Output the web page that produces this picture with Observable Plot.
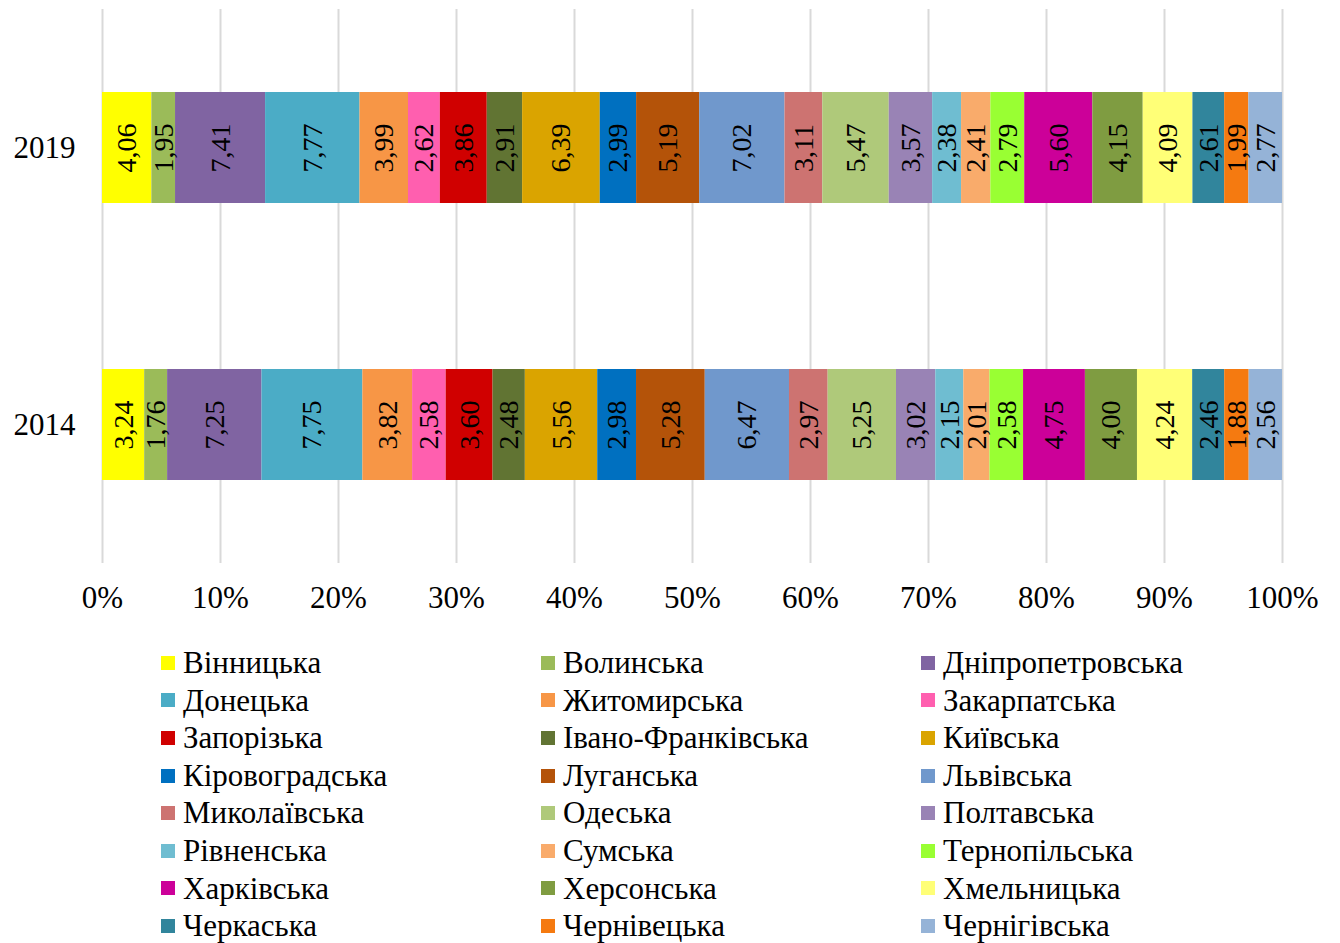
<!DOCTYPE html>
<html>
<head>
<meta charset="utf-8">
<script src="https://cdn.jsdelivr.net/npm/d3@7"></script>
<script src="https://cdn.jsdelivr.net/npm/@observablehq/plot@0.6"></script>
<style>
  html, body { margin: 0; padding: 0; background: #fff; }
  body { width: 1340px; height: 943px; overflow: hidden; font-family: "Liberation Serif", serif; }
  #legend {
    display: grid;
    grid-template-columns: 380px 380px 380px;
    padding-left: 161px;
    margin-top: 14px;
    font-size: 31px;
    line-height: 37.6px;
    color: #000;
  }
  .item { display: flex; align-items: center; white-space: nowrap; }
  .sw { width: 14px; height: 14px; margin-right: 8px; flex: none; }
</style>
</head>
<body>
<div id="chart"></div>
<div id="legend"></div>
<script>
const years = ["2019", "2014"];
const regions = ["Вінницька","Волинська","Дніпропетровська","Донецька","Житомирська","Закарпатська","Запорізька","Івано-Франківська","Київська","Кіровоградська","Луганська","Львівська","Миколаївська","Одеська","Полтавська","Рівненська","Сумська","Тернопільська","Харківська","Херсонська","Хмельницька","Черкаська","Чернівецька","Чернігівська"];
const colors = ["#FFFF00","#9BBB59","#8064A2","#4BACC6","#F79646","#FF5FAF","#D00000","#617433","#DAA400","#0070C0","#B45309","#7098CC","#CD7371","#AFC97A","#9983B5","#6FBDD1","#F9AB6B","#99FF33","#CC0099","#7F9C41","#FFFF77","#31859C","#F57A10","#95B3D7"];
const values2019 = [4.06,1.95,7.41,7.77,3.99,2.62,3.86,2.91,6.39,2.99,5.19,7.02,3.11,5.47,3.57,2.38,2.41,2.79,5.60,4.15,4.09,2.61,1.99,2.77];
const values2014 = [3.24,1.76,7.25,7.75,3.82,2.58,3.60,2.48,5.56,2.98,5.28,6.47,2.97,5.25,3.02,2.15,2.01,2.58,4.75,4.00,4.24,2.46,1.88,2.56];
const xTicks = [0,0.1,0.2,0.3,0.4,0.5,0.6,0.7,0.8,0.9,1];

const data = [];
regions.forEach((r, i) => data.push({year: "2019", region: r, value: values2019[i]}));
regions.forEach((r, i) => data.push({year: "2014", region: r, value: values2014[i]}));

const fmt = v => d3.format(".2f")(v).replace(".", ",");
const FF = "Liberation Serif";

const chart = Plot.plot({
  width: 1340,
  height: 630,
  marginLeft: 102,
  marginRight: 58,
  marginTop: 9,
  marginBottom: 67,
  style: {fontFamily: FF, fontSize: "31px", color: "#000", background: "#fff"},
  x: {domain: [0, 1], label: null},
  y: {domain: years, paddingInner: 0.6, paddingOuter: 0.3, label: null},
  color: {domain: regions, range: colors},
  marks: [
    Plot.ruleX(xTicks, {stroke: "#D9D9D9", strokeWidth: 2, strokeOpacity: 1}),
    Plot.barX(data, Plot.stackX({x: "value", y: "year", fill: "region", offset: "normalize"})),
    Plot.text(data, Plot.stackX({x: "value", y: "year", z: "region", offset: "normalize", text: d => fmt(d.value), rotate: -90, fill: "#000", fontSize: 28, fontFamily: FF})),
    Plot.axisX({ticks: xTicks, tickFormat: d => Math.round(d * 100) + "%", tickSize: 0, tickPadding: 22, fontSize: 31, fontFamily: FF, fill: "#000", label: null}),
    Plot.axisY({tickSize: 0, tickPadding: 27, fontSize: 31, fontFamily: FF, fill: "#000", label: null})
  ]
});
document.getElementById("chart").appendChild(chart);

const legend = document.getElementById("legend");
regions.forEach((r, i) => {
  const it = document.createElement("div");
  it.className = "item";
  const sw = document.createElement("span");
  sw.className = "sw";
  sw.style.background = colors[i];
  const t = document.createElement("span");
  t.textContent = r;
  it.appendChild(sw);
  it.appendChild(t);
  legend.appendChild(it);
});
</script>
</body>
</html>
